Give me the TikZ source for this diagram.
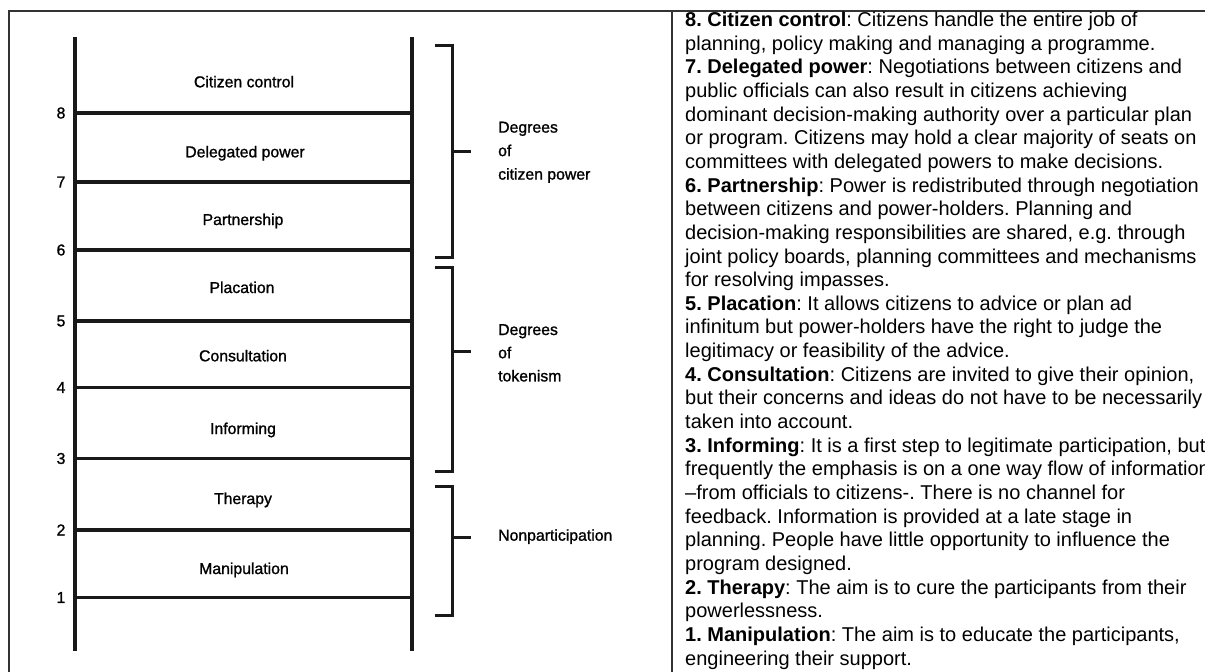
\documentclass[tikz,border=0pt]{standalone}
\usepackage{fontspec}
\setmainfont{Liberation Sans}
\newfontfamily\scanfont{Liberation Sans}[FakeBold=1.2]
\begin{document}
\frenchspacing
\begin{tikzpicture}[x=1pt,y=-1pt,
  rail/.style={line width=4pt, draw=black!90},
  rung/.style={line width=3.2pt, draw=black!90},
  brk/.style={line width=3pt, draw=black!90},
  frame/.style={line width=1.2pt, draw=black!80},
  lbl/.style={font=\scanfont\fontsize{15.8}{18}\selectfont, inner sep=0, anchor=base},
  num/.style={font=\scanfont\fontsize{15.8}{18}\selectfont, inner sep=0},
  grp/.style={inner sep=0, anchor=base west},
  desc/.style={inner sep=0, anchor=base west}]
\useasboundingbox (0,0) rectangle (1205,672);
\clip (0,0) rectangle (1205,672);
% frame
\coordinate (FBL) at (9,672);
\coordinate (FTL) at (9,11);
\coordinate (FTR) at (1205,11);
\coordinate (DT) at (672,11);
\coordinate (DB) at (672,672);
\draw[frame] (FBL) -- (FTL) -- (FTR);
\draw[frame] (DT) -- (DB);
% rails
\coordinate (LT) at (75,37);
\coordinate (LB) at (75,651);
\coordinate (RT) at (412,37);
\coordinate (RB) at (412,651);
\draw[rail] (LT) -- (LB);
\draw[rail] (RT) -- (RB);
% rungs and numbers
\foreach \n/\y in {8/113,7/182,6/250,5/321,4/387.5,3/458.5,2/530,1/597.5}{
  \coordinate (rl\n) at (75,\y);
  \coordinate (rr\n) at (412,\y);
  \draw[rung] (rl\n) -- (rr\n);
  \node[num] (n\n) at (61,\y) {\n};
}
% ladder labels
\node[lbl] (l8) at (244,87.3) {Citizen control};
\node[lbl] (l7) at (245,157.3) {Delegated power};
\node[lbl] (l6) at (243,225) {Partnership};
\node[lbl] (l5) at (242,293) {Placation};
\node[lbl] (l4) at (243,361.3) {Consultation};
\node[lbl] (l3) at (243,434) {Informing};
\node[lbl] (l2) at (243,504) {Therapy};
\node[lbl] (l1) at (244,574) {Manipulation};
% brackets
\coordinate (b1t) at (435,45);   \coordinate (b1u) at (452,45);
\coordinate (b1d) at (452,257);  \coordinate (b1b) at (435,257);
\coordinate (b1m) at (452,151);  \coordinate (b1e) at (471,151);
\draw[brk] (b1t) -- (b1u) -- (b1d) -- (b1b);
\draw[brk] (b1m) -- (b1e);
\coordinate (b2t) at (435,267);  \coordinate (b2u) at (452,267);
\coordinate (b2d) at (452,471);  \coordinate (b2b) at (435,471);
\coordinate (b2m) at (452,351);  \coordinate (b2e) at (471,351);
\draw[brk] (b2t) -- (b2u) -- (b2d) -- (b2b);
\draw[brk] (b2m) -- (b2e);
\coordinate (b3t) at (435,486);  \coordinate (b3u) at (452,486);
\coordinate (b3d) at (452,615);  \coordinate (b3b) at (435,615);
\coordinate (b3m) at (452,537);  \coordinate (b3e) at (471,537);
\draw[brk] (b3t) -- (b3u) -- (b3d) -- (b3b);
\draw[brk] (b3m) -- (b3e);
% group labels
\node[grp] (g1) at (498,132.6) {\parbox[t]{150pt}{\scanfont\fontsize{15.8}{23.5}\selectfont Degrees\\of\\citizen power}};
\node[grp] (g2) at (498,335) {\parbox[t]{150pt}{\scanfont\fontsize{15.8}{23.2}\selectfont Degrees\\of\\tokenism}};
\node[grp] (g3) at (498,540.7) {\parbox[t]{150pt}{\scanfont\fontsize{15.8}{23.5}\selectfont Nonparticipation}};
% description
\node[desc] (d) at (685,26.5) {\parbox[t]{700pt}{\fontsize{20}{23.65}\selectfont
\textbf{8. Citizen control}: Citizens handle the entire job of\\
planning, policy making and managing a programme.\\
\textbf{7. Delegated power}: Negotiations between citizens and\\
public officials can also result in citizens achieving\\
dominant decision-making authority over a particular plan\\
or program. Citizens may hold a clear majority of seats on\\
committees with delegated powers to make decisions.\\
\textbf{6. Partnership}: Power is redistributed through negotiation\\
between citizens and power-holders. Planning and\\
decision-making responsibilities are shared, e.g. through\\
joint policy boards, planning committees and mechanisms\\
for resolving impasses.\\
\textbf{5. Placation}: It allows citizens to advice or plan ad\\
infinitum but power-holders have the right to judge the\\
legitimacy or feasibility of the advice.\\
\textbf{4. Consultation}: Citizens are invited to give their opinion,\\
but their concerns and ideas do not have to be necessarily\\
taken into account.\\
\textbf{3. Informing}: It is a first step to legitimate participation, but\\
frequently the emphasis is on a one way flow of information\\
\textendash from officials to citizens-. There is no channel for\\
feedback. Information is provided at a late stage in\\
planning. People have little opportunity to influence the\\
program designed.\\
\textbf{2. Therapy}: The aim is to cure the participants from their\\
powerlessness.\\
\textbf{1. Manipulation}: The aim is to educate the participants,\\
engineering their support.}};
\end{tikzpicture}
\end{document}
